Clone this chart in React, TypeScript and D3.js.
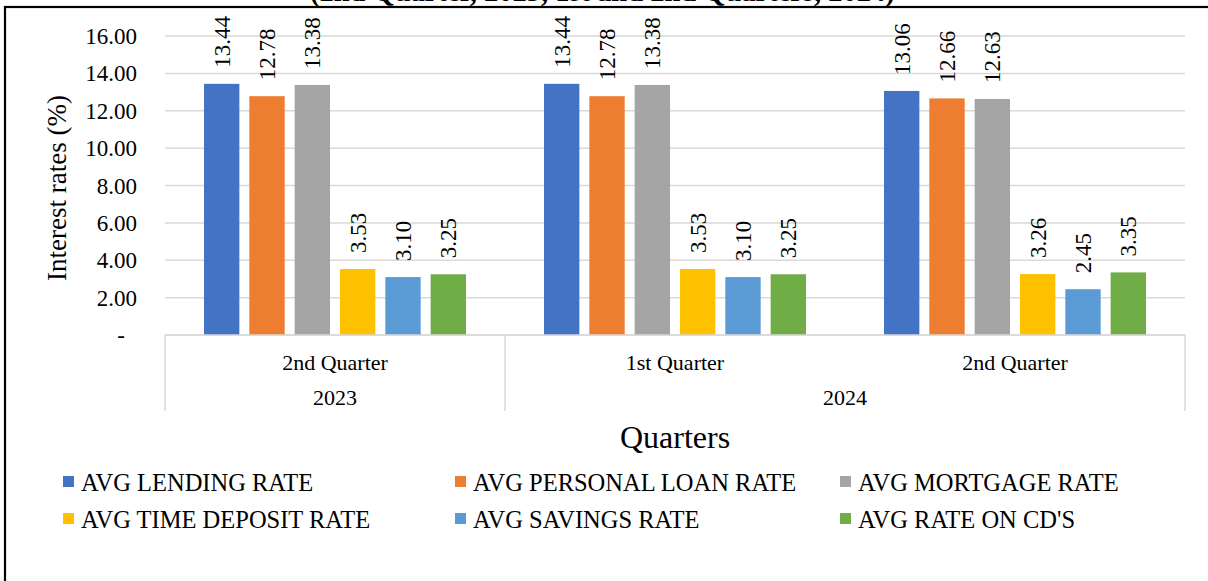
import React from "react";
import * as d3 from "d3";

const quarters = ["2nd Quarter", "1st Quarter", "2nd Quarter"];
const years = ["2023", "2024", "2024"];
const seriesNames = [
  "AVG LENDING RATE",
  "AVG PERSONAL LOAN RATE",
  "AVG MORTGAGE RATE",
  "AVG TIME DEPOSIT RATE",
  "AVG SAVINGS RATE",
  "AVG RATE ON CD'S",
];
const lendingRate = [13.44, 13.44, 13.06];
const personalLoanRate = [12.78, 12.78, 12.66];
const mortgageRate = [13.38, 13.38, 12.63];
const timeDepositRate = [3.53, 3.53, 3.26];
const savingsRate = [3.1, 3.1, 2.45];
const cdRate = [3.25, 3.25, 3.35];
const yTicks = [0, 2, 4, 6, 8, 10, 12, 14, 16];
const colors = ["#4472C4", "#ED7D31", "#A5A5A5", "#FFC000", "#5B9BD5", "#70AD47"];

const seriesValues = [lendingRate, personalLoanRate, mortgageRate, timeDepositRate, savingsRate, cdRate];

export default function App() {
  const W = 1208;
  const H = 581;
  const font = "'Liberation Serif', 'Times New Roman', serif";
  const x0 = d3.scaleBand<number>().domain(d3.range(quarters.length)).range([165, 1185]).padding(0);
  const x1 = d3
    .scaleBand<number>()
    .domain(d3.range(seriesNames.length))
    .range([39, x0.bandwidth() - 39])
    .paddingInner(0.22)
    .paddingOuter(0);
  const y = d3.scaleLinear().domain([0, 16]).range([335, 36]);

  const groupYears = [
    { label: "2023", start: 0, end: 1 },
    { label: "2024", start: 1, end: 3 },
  ];

  const legendCols = [63, 455, 840];
  const legendRows = [482, 519];

  return (
    <div style={{ position: "absolute", left: 0, top: 0 }}>
      <svg width={W} height={H} style={{ display: "block", background: "#fff" }} fontFamily={font}>
        <rect x={0} y={0} width={W} height={H} fill="#fff" />
        {/* clipped title (only its lowest edge is visible in the reference) */}
        <text x={310} y={0.5} textAnchor="start" fontSize={28.5} fontWeight="bold" fill="#000">
          (2nd Quarter, 2023, 1st and 2nd Quarters, 2024)
        </text>
        <rect x={5} y={7} width={W + 50} height={H + 50} fill="#fff" stroke="#000" strokeWidth={2.2} />
        {/* gridlines */}
        {yTicks.map((t) => (
          <line
            key={"g" + t}
            x1={165}
            x2={1185}
            y1={y(t)}
            y2={y(t)}
            stroke="#d9d9d9"
            strokeWidth={1.5}
          />
        ))}
        {yTicks.map((t) => (
          <text
            key={"t" + t}
            x={t === 0 ? 125 : 137}
            y={y(t)}
            dy="0.35em"
            textAnchor="end"
            fontSize={23}
            fill="#000"
          >
            {t === 0 ? "-" : d3.format(".2f")(t)}
          </text>
        ))}
        {/* bars */}
        {quarters.map((q, qi) => (
          <g key={"q" + qi} transform={`translate(${x0(qi)},0)`}>
            {seriesValues.map((vals, si) => (
              <g key={"b" + si}>
                <rect
                  x={x1(si)}
                  y={y(vals[qi])}
                  width={x1.bandwidth()}
                  height={y(0) - y(vals[qi])}
                  fill={colors[si]}
                />
                <text
                  transform={`translate(${(x1(si) as number) + x1.bandwidth() / 2},${y(vals[qi]) - 16}) rotate(-90)`}
                  dy="0.35em"
                  textAnchor="start"
                  fontSize={23}
                  fill="#000"
                >
                  {d3.format(".2f")(vals[qi])}
                </text>
              </g>
            ))}
          </g>
        ))}
        {/* category axis box */}
        <line x1={165} x2={1185} y1={y(0)} y2={y(0)} stroke="#d9d9d9" strokeWidth={1.5} />
        {[165, 505, 1185].map((xv, i) => (
          <line key={"v" + i} x1={xv} x2={xv} y1={y(0)} y2={411} stroke="#d9d9d9" strokeWidth={1.5} />
        ))}
        {quarters.map((q, qi) => (
          <text
            key={"ql" + qi}
            x={(x0(qi) as number) + x0.bandwidth() / 2}
            y={362}
            dy="0.35em"
            textAnchor="middle"
            fontSize={22}
            fill="#000"
          >
            {q}
          </text>
        ))}
        {groupYears.map((g, i) => (
          <text
            key={"yl" + i}
            x={((x0(g.start) as number) + (x0(g.end - 1) as number) + x0.bandwidth()) / 2}
            y={397}
            dy="0.35em"
            textAnchor="middle"
            fontSize={22}
            fill="#000"
          >
            {years[g.start]}
          </text>
        ))}
        {/* axis titles */}
        <text x={675} y={437} dy="0.35em" textAnchor="middle" fontSize={32} fill="#000">
          Quarters
        </text>
        <text
          transform={`translate(57,188) rotate(-90)`}
          dy="0.35em"
          textAnchor="middle"
          fontSize={27}
          fill="#000"
        >
          Interest rates (%)
        </text>
        {/* legend */}
        {seriesNames.map((name, i) => {
          const cx = legendCols[i % 3];
          const cy = legendRows[Math.floor(i / 3)];
          return (
            <g key={"l" + i}>
              <rect x={cx} y={cy - 6} width={11} height={11} fill={colors[i]} />
              <text x={cx + 18} y={cy} dy="0.35em" fontSize={24.5} fill="#000">
                {name}
              </text>
            </g>
          );
        })}
      </svg>
    </div>
  );
}
